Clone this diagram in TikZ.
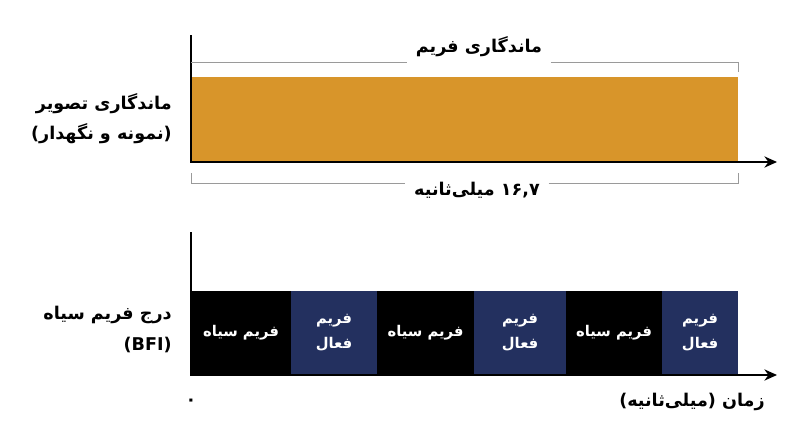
\documentclass[tikz,border=0pt]{standalone}
\usepackage{fontspec}
\newfontfamily\farsi[Script=Arabic]{DejaVu Sans}
\TeXXeTstate=1
\usetikzlibrary{positioning,arrows.meta}

\definecolor{holdorange}{HTML}{D8952A}
\definecolor{activenavy}{HTML}{23305F}
\definecolor{spangray}{HTML}{9A9A9A}

\begin{document}
\begin{tikzpicture}[
    x=0.025cm, y=-0.025cm,
    node distance=0pt,
    axis/.style={line width=1.2pt, -{Stealth[length=9pt,width=8pt]}},
    span/.style={draw=spangray, line width=0.6pt},
    fa/.style={font=\farsi\bfseries\fontsize{12.5}{17}\selectfont, inner sep=0pt},
    sidelabel/.style={fa, align=right, anchor=east},
    spanlabel/.style={fa, inner xsep=6pt},
    hold bar/.style={fill=holdorange, minimum width=13.675cm, minimum height=2.125cm, inner sep=0pt, outer sep=0pt, anchor=south west},
    frame/.style={minimum height=2.1cm, inner sep=0pt, outer sep=0pt, font=\farsi\bfseries\fontsize{10.5}{17.5}\selectfont, text=white, align=center},
    black frame/.style={frame, fill=black},
    active frame/.style={frame, fill=activenavy}
]
\useasboundingbox (0,0) rectangle (800,447);

% sample and hold
\coordinate (top peak) at (191,35);
\coordinate (top origin) at (191,162);
\coordinate (top end) at (777,162);
\node[hold bar] (hold) at (top origin) {};
\draw[axis] (top peak) -- (top origin) -- (top end);

\node[sidelabel] (hold name) at (172,104) {\beginR ماندگاری تصویر\endR};
\node[sidelabel] (hold note) at (172,134) {\beginR (نمونه و نگهدار)\endR};

\coordinate (persist left) at (191,62);
\coordinate (persist right) at (738,62);
\node[spanlabel] (persist) at (479,47) {\beginR ماندگاری فریم\endR};
\draw[span] (persist left) -- (persist.west |- persist left);
\draw[span] (persist.east |- persist right) -- (persist right) -- ++(0,10);

\coordinate (period left) at (191,183);
\coordinate (period right) at (738,183);
\node[spanlabel] (period) at (477,190) {\beginR\beginL ۱۶,۷\endL{} میلی‌ثانیه\endR};
\draw[span] (period left) ++(0,-10) -- (period left) -- (period.west |- period left);
\draw[span] (period.east |- period right) -- (period right) -- ++(0,-10);

% black frame insertion
\coordinate (bfi peak) at (191,232);
\coordinate (bfi origin) at (191,375);
\coordinate (bfi end) at (777,375);

\node[black frame, minimum width=2.5cm, anchor=south west] (f1) at (bfi origin) {\beginR فریم سیاه\endR};
\node[active frame, minimum width=2.15cm, right=of f1] (f2) {فریم\\فعال};
\node[black frame, minimum width=2.425cm, right=of f2] (f3) {\beginR فریم سیاه\endR};
\node[active frame, minimum width=2.3cm, right=of f3] (f4) {فریم\\فعال};
\node[black frame, minimum width=2.4cm, right=of f4] (f5) {\beginR فریم سیاه\endR};
\node[active frame, minimum width=1.9cm, right=of f5] (f6) {فریم\\فعال};
\draw[axis] (bfi peak) -- (bfi origin) -- (bfi end);

\node[sidelabel] (bfi name) at (172,315) {\beginR درج فریم سیاه\endR};
\node[sidelabel] (bfi note) at (172,345) {(BFI)};

\node[fa] (zero) at (191,402) {۰};
\node[fa, anchor=east] (time) at (765,402) {\beginR زمان (میلی‌ثانیه)\endR};

\end{tikzpicture}
\end{document}
